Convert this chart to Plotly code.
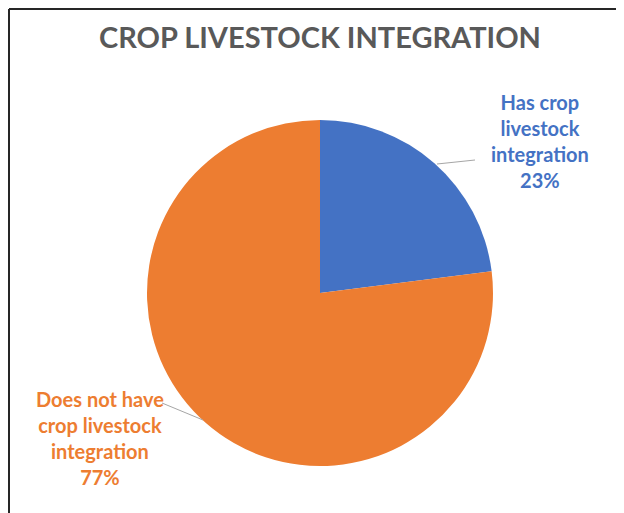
import plotly.graph_objects as go

# data
categories = ["Has crop livestock integration", "Does not have crop livestock integration"]
label_lines = ["Has crop<br>livestock<br>integration", "Does not have<br>crop livestock<br>integration"]
percent = [23, 77]
colors = ["#4472C4", "#ED7D31"]

W, H = 624, 513
OFF = 8  # the page body has a default 8px margin


def px(x):
    return (x - OFF) / W


def py(y):
    return 1 - (y - OFF) / H


fig = go.Figure(go.Pie(
    labels=categories,
    values=percent,
    sort=False,
    direction="clockwise",
    rotation=0,
    textinfo="none",
    hoverinfo="label+percent",
    marker=dict(colors=colors, line=dict(width=0)),
    domain=dict(x=[px(147), px(493)], y=[py(466), py(120)]),
    showlegend=False,
))

# labels placed like Excel's outside data labels
label_pos = [(540, 141), (100, 438)]
leader = [((437, 164), (475, 160)), ((203, 420), (162, 403))]

for i in range(len(categories)):
    fig.add_annotation(
        x=px(label_pos[i][0]), y=py(label_pos[i][1]), xref="paper", yref="paper",
        xanchor="center", yanchor="middle",
        text="<b>%s<br>%d%%</b>" % (label_lines[i], percent[i]),
        showarrow=False, align="center",
        font=dict(family="Lato", size=20, color=colors[i]),
    )
    (x0, y0), (x1, y1) = leader[i]
    fig.add_shape(type="line", xref="paper", yref="paper",
                  x0=px(x0), y0=py(y0), x1=px(x1), y1=py(y1),
                  line=dict(color="#A6A6A6", width=1))

# frame (top and left edges of the chart box)
fig.add_shape(type="line", xref="paper", yref="paper",
              x0=1 / W, y0=1 - 1 / H, x1=1, y1=1 - 1 / H,
              line=dict(color="#262626", width=2))
fig.add_shape(type="line", xref="paper", yref="paper",
              x0=1 / W, y0=1 - 1 / H, x1=1 / W, y1=0,
              line=dict(color="#262626", width=2))

fig.update_layout(
    width=W, height=H,
    margin=dict(l=0, r=0, t=0, b=0),
    paper_bgcolor="white",
    plot_bgcolor="white",
    title=dict(text="<b>CROP LIVESTOCK INTEGRATION</b>", x=px(320), xanchor="center",
               y=py(38), yanchor="middle",
               font=dict(family="Lato", size=29, color="#595959")),
)

fig.write_html("out.html")
